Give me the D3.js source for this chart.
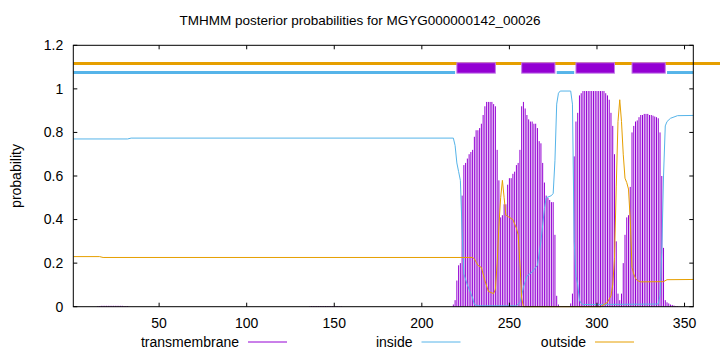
<!DOCTYPE html>
<html>
<head>
<meta charset="utf-8">
<script src="https://cdn.jsdelivr.net/npm/d3@7/dist/d3.min.js"></script>
<style>
body{margin:0;background:#fff;}
text{font-family:"Liberation Sans",Arial,sans-serif;font-size:14px;fill:#000;}
</style>
</head>
<body>
<div id="plot"></div>
<script>
var title="TMHMM posterior probabilities for MGYG000000142_00026";
var seqLen=355;
var xTicks=[50,100,150,200,250,300,350];
var yTicks=[0,0.2,0.4,0.6,0.8,1,1.2];
var names=["transmembrane","inside","outside"];
var colors=["#9400d3","#56b4e9","#e69f00"];

// transmembrane posterior, per residue, in runs
var tmStartA=15;
var tmA=[0.003,0.003,0.004,0.004,0.004,0.004,0.004,0.004,0.004,0.004,0.004,0.004,0.004,0.004,0.004,0.003,0.003,0.003];
var tmStartB=136;
var tmB=[0.002,0.003,0.003,0.003,0.003,0.003,0.003,0.003,0.003,0.003,0.003,0.003,0.003,0.003,0.003,0.003,0.003,0.002,0.002];
var tmStartC=217;
var tmC=[
 0.00,0.01,0.03,0.12,0.19,0.20,0.51,0.65,0.66,0.68,   //217-226
 0.70,0.71,0.72,0.78,0.81,0.81,0.82,0.84,0.88,0.92,   //227-236
 0.94,0.94,0.94,0.94,0.93,0.92,0.72,0.58,0.41,0.42,   //237-246
 0.47,0.47,0.56,0.59,0.59,0.61,0.62,0.65,0.66,0.72,   //247-256
 0.92,0.94,0.91,0.88,0.86,0.85,0.85,0.84,0.84,0.82,   //257-266
 0.76,0.75,0.66,0.57,0.51,0.50,0.49,0.48,0.48,0.33,   //267-276
 0.05,0.01,0,0,0,0,0,0,0.015,0.06,                    //277-286
 0.69,0.85,0.89,0.97,0.98,0.99,0.99,0.99,0.99,0.99,   //287-296
 0.99,0.99,0.99,0.99,0.99,0.99,0.99,0.99,0.98,0.97,   //297-306
 0.95,0.89,0.83,0.70,0.30,0.06,0.03,0.06,0.20,0.33,   //307-316
 0.41,0.42,0.55,0.80,0.83,0.85,0.855,0.87,0.88,0.88,  //317-326
 0.885,0.885,0.885,0.88,0.88,0.877,0.873,0.87,0.865,0.80, //327-336
 0.60,0.27,0.03,0.02,0.015,0.01,0.008,0.005,0.003,0.002   //337-346
];

// inside / outside posterior: [residue, probability]
var inside=[[1,0.770],[32,0.770],[34,0.774],[218,0.774],[219,0.74],[220,0.66],[221,0.62],[222,0.58],
 [223,0.35],[224,0.15],[226,0.10],[228,0.06],[229,0.04],[230,0.01],[232,0.004],[254,0.004],[256,0.02],
 [257,0.05],[258,0.09],[260,0.14],[263,0.16],[266,0.19],[268,0.30],[270,0.45],[271,0.50],[274,0.51],
 [275,0.52],[276,0.67],[277,0.93],[278,0.98],[279,0.99],[285,0.99],[286,0.93],[287,0.30],[288,0.14],
 [289,0.10],[290,0.03],[291,0.015],[292,0.01],[335,0.012],[336,0.05],[337,0.25],[338,0.60],[339,0.83],
 [340,0.85],[342,0.865],[346,0.877],[355,0.878]];
var outside=[[1,0.23],[16,0.23],[18,0.226],[229,0.226],[230,0.22],[232,0.19],[234,0.18],[236,0.12],
 [238,0.07],[241,0.06],[242,0.08],[243,0.2],[244,0.37],[245,0.5],[246,0.58],[247,0.5],[248,0.42],
 [250,0.41],[252,0.40],[253,0.38],[254,0.36],[255,0.33],[256,0.2],[257,0.04],[258,0.0],[302,0.0],
 [304,0.01],[306,0.02],[308,0.05],[309,0.1],[310,0.22],[311,0.55],[312,0.85],[313,0.95],[314,0.85],
 [315,0.7],[316,0.59],[317,0.57],[318,0.54],[319,0.4],[320,0.18],[321,0.15],[322,0.13],[323,0.12],
 [325,0.114],[338,0.115],[340,0.124],[355,0.125]];

// predicted topology
var tmSeg=[[220,242],[257,276],[288,310],[320,339]];
var inSeg=[[1,219],[277,287],[340,355]];
var outLevel=1.117, inLevel=1.075, tmLo=1.072, tmHi=1.12;

var ww=720,hh=352;
var ml=73.3,mr=26.7,mt=45.3,mb=45.3;
var x=d3.scaleLinear().domain([1,seqLen]).range([ml,ww-mr]);
var y=d3.scaleLinear().domain([0,1.2]).range([hh-mb,mt]);

var svg=d3.select("#plot").append("svg")
  .attr("width",ww).attr("height",hh);

// impulses
function impulses(start,arr){
  svg.append("g").selectAll("line").data(arr).enter().append("line")
    .attr("x1",function(d,i){return x(start+i);})
    .attr("x2",function(d,i){return x(start+i);})
    .attr("y1",y(0))
    .attr("y2",function(d){return y(d);})
    .attr("stroke",colors[0])
    .attr("stroke-width",1);
}
impulses(tmStartA,tmA);
impulses(tmStartB,tmB);
impulses(tmStartC,tmC);

var line=d3.line().x(function(d){return x(d[0]);}).y(function(d){return y(d[1]);});
svg.append("path").datum(inside).attr("d",line)
  .attr("fill","none").attr("stroke",colors[1]).attr("stroke-width",1);
svg.append("path").datum(outside).attr("d",line)
  .attr("fill","none").attr("stroke",colors[2]).attr("stroke-width",1);

// topology bar
svg.append("line")
  .attr("x1",x(1)).attr("x2",ww)
  .attr("y1",y(outLevel)).attr("y2",y(outLevel))
  .attr("stroke",colors[2]).attr("stroke-width",3);
svg.selectAll("line.inseg").data(inSeg).enter().append("line")
  .attr("class","inseg")
  .attr("x1",function(d){return x(d[0]);})
  .attr("x2",function(d){return x(d[1]);})
  .attr("y1",y(inLevel)).attr("y2",y(inLevel))
  .attr("stroke",colors[1]).attr("stroke-width",3);
svg.selectAll("rect.tmseg").data(tmSeg).enter().append("rect")
  .attr("class","tmseg")
  .attr("x",function(d){return x(d[0]);})
  .attr("width",function(d){return x(d[1])-x(d[0]);})
  .attr("y",y(tmHi))
  .attr("height",y(tmLo)-y(tmHi))
  .attr("fill",colors[0])
  .attr("stroke","#c47ee8").attr("stroke-width",1);

// border + ticks
svg.append("rect")
  .attr("x",ml).attr("y",mt)
  .attr("width",ww-ml-mr).attr("height",hh-mt-mb)
  .attr("fill","none").attr("stroke","#000").attr("stroke-width",1);
var tl=4;
xTicks.forEach(function(t){
  svg.append("line").attr("x1",x(t)).attr("x2",x(t)).attr("y1",y(0)).attr("y2",y(0)-tl).attr("stroke","#000");
  svg.append("line").attr("x1",x(t)).attr("x2",x(t)).attr("y1",y(1.2)).attr("y2",y(1.2)+tl).attr("stroke","#000");
  svg.append("text").attr("x",x(t)).attr("y",y(0)+16).attr("dy",".35em")
    .attr("text-anchor","middle").text(t);
});
yTicks.forEach(function(t){
  svg.append("line").attr("x1",ml).attr("x2",ml+tl).attr("y1",y(t)).attr("y2",y(t)).attr("stroke","#000");
  svg.append("line").attr("x1",ww-mr).attr("x2",ww-mr-tl).attr("y1",y(t)).attr("y2",y(t)).attr("stroke","#000");
  svg.append("text").attr("x",ml-10).attr("y",y(t)).attr("dy",".35em")
    .attr("text-anchor","end").text(t);
});

svg.append("text").attr("x",ww/2).attr("y",20).attr("dy",".35em")
  .attr("text-anchor","middle").style("font-size","13.5px").text(title);
svg.append("text")
  .attr("transform","translate(16,"+((mt+hh-mb)/2)+") rotate(-90)")
  .attr("dy",".35em").attr("text-anchor","middle").text("probability");

// legend
var leg=svg.selectAll("g.leg").data(names).enter().append("g")
  .attr("class","leg")
  .attr("transform",function(d,i){return "translate("+(239+i*173.5)+",342)";});
leg.append("text").attr("x",0).attr("dy",".35em").attr("text-anchor","end").text(function(d){return d;});
leg.append("line").attr("x1",9).attr("x2",48).attr("y1",0).attr("y2",0)
  .attr("stroke",function(d,i){return colors[i];}).attr("stroke-width",1);
</script>
</body>
</html>
